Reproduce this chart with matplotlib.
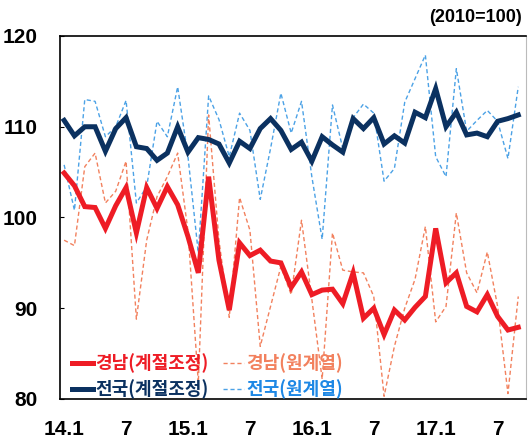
import matplotlib
matplotlib.use('Agg')
import matplotlib.pyplot as plt
import numpy as np

# monthly index, 2014.1 ~ 2017.9
tick_pos = [0, 6, 12, 18, 24, 30, 36, 42]
tick_labels = ['14.1', '7', '15.1', '7', '16.1', '7', '17.1', '7']

gyeongnam_sa = [104.9, 103.5, 101.2, 101.1, 98.8, 101.3, 103.3, 98.3, 103.3, 101.0,
                103.4, 101.4, 97.9, 93.9, 104.5, 95.3, 89.8, 97.2, 95.8, 96.4,
                95.2, 95.0, 92.3, 94.0, 91.5, 92.0, 92.1, 90.5, 93.9, 88.9,
                90.0, 87.1, 89.8, 88.7, 90.1, 91.3, 98.8, 92.8, 93.9, 90.2,
                89.6, 91.5, 89.1, 87.6, 87.9]
gyeongnam_raw = [97.5, 96.9, 105.6, 107.1, 101.6, 102.9, 106.2, 88.8, 97.5, 102.3,
                 104.5, 107.1, 98.5, 81.8, 111.3, 97.5, 89.0, 102.2, 98.6, 85.8,
                 90.2, 94.6, 91.5, 99.7, 91.0, 82.2, 98.3, 94.2, 94.0, 93.9,
                 91.3, 80.3, 85.8, 90.0, 93.2, 99.0, 88.5, 90.2, 100.5, 93.9,
                 91.7, 96.2, 90.2, 80.6, 91.3]
jeonguk_sa = [110.7, 109.0, 110.0, 110.0, 107.3, 109.8, 111.0, 107.8, 107.6, 106.3,
              107.1, 110.0, 107.2, 108.8, 108.6, 108.1, 106.0, 108.4, 107.6, 109.8,
              110.9, 109.6, 107.5, 108.3, 106.2, 108.9, 108.0, 107.2, 110.9, 109.8,
              111.0, 108.1, 109.0, 108.2, 111.6, 111.0, 114.2, 110.0, 111.6, 109.1,
              109.3, 108.9, 110.6, 110.9, 111.3]
jeonguk_raw = [105.8, 100.8, 113.0, 112.8, 108.9, 110.0, 112.9, 101.6, 103.4, 110.6,
               108.9, 114.4, 106.7, 96.1, 113.4, 110.8, 106.7, 111.5, 109.6, 102.0,
               107.6, 113.7, 109.3, 112.8, 104.5, 97.6, 112.4, 107.6, 111.0, 112.5,
               111.5, 104.0, 105.4, 112.7, 115.3, 117.9, 106.7, 104.5, 116.4, 109.5,
               110.7, 111.8, 110.6, 106.5, 114.4]

x = np.arange(len(gyeongnam_sa))

red = '#ee1c25'
salmon = '#f2815e'
navy = '#0b3160'
blue = '#4ca2e6'

plt.rcParams['font.family'] = ['Liberation Sans', 'Noto Sans CJK KR']
plt.rcParams['font.weight'] = 'bold'

fig = plt.figure(figsize=(5.28, 4.42), dpi=100)
ax = fig.add_axes([60/528, 1-399/442, 466/528, 363/442])

ax.plot(x, jeonguk_raw, color=blue, lw=1.0, dashes=(3, 2), label='전국(원계열)')
ax.plot(x, gyeongnam_raw, color=salmon, lw=1.0, dashes=(3, 2), label='경남(원계열)')
ax.plot(x, jeonguk_sa, color=navy, lw=3.6, solid_joinstyle='miter', label='전국(계절조정)')
ax.plot(x, gyeongnam_sa, color=red, lw=3.6, solid_joinstyle='miter', label='경남(계절조정)')

ax.set_xlim(-0.4, 44.75)
ax.set_ylim(80, 120)
ax.set_yticks([80, 90, 100, 110, 120])
ax.set_xticks(tick_pos)
ax.set_xticklabels(tick_labels)
ax.tick_params(axis='y', direction='in', length=3, pad=16, labelsize=15)
ax.tick_params(axis='x', length=0, pad=15, labelsize=15)
for lab in ax.get_xticklabels() + ax.get_yticklabels():
    lab.set_fontweight('bold')

for s in ['left', 'top', 'bottom']:
    ax.spines[s].set_color('black')
    ax.spines[s].set_linewidth(1.2)
ax.spines['right'].set_color('#bbbbbb')

h, l = ax.get_legend_handles_labels()
order = [3, 2, 1, 0]
leg = ax.legend([h[i] for i in order], [l[i] for i in order], ncol=2, loc='lower left',
                bbox_to_anchor=(-0.01, -0.045), frameon=False, handlelength=1.2,
                handletextpad=0.1, columnspacing=0.8, labelspacing=0.35,
                prop={'family': 'Noto Sans CJK KR', 'weight': 'bold', 'size': 13})
for txt, c in zip(leg.get_texts(), [red, navy, salmon, '#1e88e5']):
    txt.set_color(c)

fig.text(522/528, 1-18/442, '(2010=100)', ha='right', va='center', fontsize=13, fontweight='bold')

plt.savefig('out.png', dpi=100)
